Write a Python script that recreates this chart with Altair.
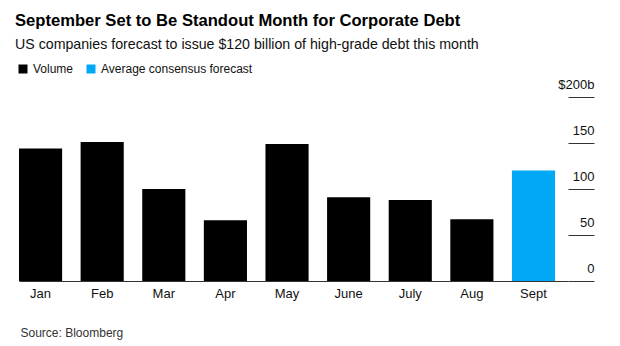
import altair as alt
import pandas as pd

months = ["Jan", "Feb", "Mar", "Apr", "May", "June", "July", "Aug", "Sept"]
volumes = [144, 151, 100, 66, 149, 91, 88, 67, 120]
series = ["Volume"] * 8 + ["Average consensus forecast"]
y_ticks = [0, 50, 100, 150, 200]

df = pd.DataFrame({"month": months, "volume": volumes, "series": series})

FONT = "Liberation Sans"

chart = alt.Chart(df).mark_bar().encode(
    x=alt.X(
        "month:N",
        sort=months,
        scale=alt.Scale(paddingInner=0.3, paddingOuter=0.105, align=0),
        axis=alt.Axis(
            title="Source: Bloomberg",
            titleAnchor="start",
            titleAlign="left",
            titleX=1,
            titleY=46,
            titleFont=FONT,
            titleFontSize=12,
            titleFontWeight="normal",
            titleColor="#333",
            labelAngle=0,
            ticks=False,
            labelPadding=6,
            labelFont=FONT,
            labelFontSize=13,
            labelColor="#111",
            domainColor="#333",
            domainWidth=1,
        ),
    ),
    y=alt.Y(
        "volume:Q",
        scale=alt.Scale(domain=[0, 200]),
        axis=alt.Axis(
            title=None,
            orient="right",
            values=y_ticks,
            domain=False,
            grid=False,
            tickSize=26,
            tickColor="#333",
            tickWidth=1,
            labelAlign="right",
            labelPadding=0,
            labelBaseline="alphabetic",
            labelOffset=-9,
            labelFont=FONT,
            labelFontSize=13,
            labelColor="#111",
            labelExpr="datum.value == 200 ? '$200b' : datum.label",
        ),
    ),
    color=alt.Color(
        "series:N",
        scale=alt.Scale(
            domain=["Volume", "Average consensus forecast"],
            range=["#000000", "#00a8f6"],
        ),
        legend=alt.Legend(
            title=None,
            orient="none",
            legendX=-2,
            legendY=-34,
            direction="horizontal",
            symbolType="square",
            symbolSize=81,
            symbolStrokeWidth=0,
            labelFont=FONT,
            labelFontSize=12,
            labelColor="#111",
            labelOffset=4,
            labelLimit=400,
            columnPadding=11,
        ),
    ),
).properties(
    width=549,
    height=184,
    background="white",
    padding={"left": 19, "top": 97, "right": 52, "bottom": 65},
    autosize=alt.AutoSizeParams(type="none"),
    title=alt.TitleParams(
        text="September Set to Be Standout Month for Corporate Debt",
        subtitle="US companies forecast to issue $120 billion of high-grade debt this month",
        anchor="start",
        font=FONT,
        fontSize=16.6,
        fontWeight="bold",
        color="#000",
        subtitleFont=FONT,
        subtitleFontSize=14.2,
        subtitleColor="#111",
        subtitlePadding=8,
        offset=11,
        dx=-2,
    ),
).configure_view(strokeWidth=0, stroke="transparent")

chart.save("out.html", embed_options={"renderer": "svg", "actions": False})
